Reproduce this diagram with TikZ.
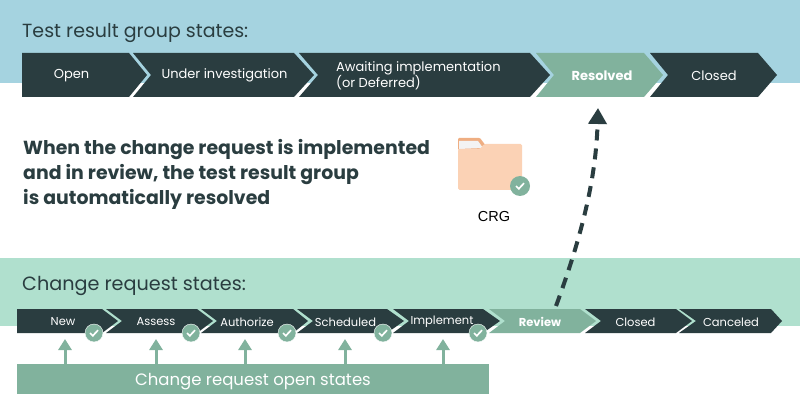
\documentclass[tikz,border=0pt]{standalone}
\usepackage{fontspec}
\setmainfont{Poppins}
\newfontfamily\crgfont{Liberation Sans}
\usepackage{xcolor}
\definecolor{colorBlueBand}{HTML}{A5D3E0}
\definecolor{colorGreenBand}{HTML}{B0E0CE}
\definecolor{colorDark}{HTML}{2A3D40}
\definecolor{colorSage}{HTML}{81B29D}
\definecolor{colorFolder}{HTML}{FBD2B5}
\definecolor{colorTab}{HTML}{EFAE82}
\definecolor{colorPaper}{HTML}{F3F3F3}
\usetikzlibrary{arrows.meta, positioning}
\tikzset{
  bandTitle/.style={anchor=west, inner sep=0pt, text=colorDark, font=\fontsize{19}{23}\selectfont},
  topLabel/.style={inner sep=0pt, text=white, font=\fontsize{13}{16}\selectfont},
  topBold/.style={topLabel, font=\fontsize{13}{16}\selectfont\bfseries},
  lowLabel/.style={inner sep=0pt, text=white, font=\fontsize{11.5}{14}\selectfont},
  lowBold/.style={lowLabel, font=\fontsize{11.5}{14}\selectfont\bfseries},
  checkDot/.style={circle, fill=colorSage, draw=white, line width=0.4pt, inner sep=0pt, minimum size=#1,
    path picture={\draw[white, line width=1.7pt]
      ([shift={(-4,0)}]path picture bounding box.center) -- ++(2.8,2.8) -- ++(5.2,-5.6);}},
  upArrow/.style={-{Triangle[length=11pt,width=13pt]}, colorSage, line width=3pt},
}
\begin{document}
\begin{tikzpicture}[x=1pt, y=-1pt]
\useasboundingbox (0,0) rectangle (800,414);
\fill[colorBlueBand] (0,0) rectangle (800,83);
\fill[colorGreenBand] (0,258) rectangle (800,326);
\node[bandTitle] (topTitle) at (22,33) {Test result group states:};
\node[bandTitle, font=\fontsize{19.2}{23}\selectfont] (lowTitle) at (22,286) {Change request states:};
\foreach \name/\col/\xa/\xn/\xb/\xt/\xl/\sty/\txt in {
  topOpen/colorDark/22/22/129/147/71.5/topLabel/Open,
  topUnder/colorDark/133/151/294/314/224.5/topLabel/Under investigation,
  topAwait/colorDark/299/318/530/550/417/topLabel/{},
  topResolved/colorSage/536/554/644/663/602/topBold/Resolved,
  topClosed/colorDark/650/668/758/777/714/topLabel/Closed}{
  \fill[\col] (\xa,53) -- (\xb,53) -- (\xt,75) -- (\xb,97) -- (\xa,97) -- (\xn,75) -- cycle;
  \node[\sty] (\name) at (\xl,75.7) {\txt};
}
\node[topLabel, align=left, anchor=west] (topAwaitText) at (336,75.7) {Awaiting implementation\\(or Deferred)};
\foreach \name/\col/\xa/\xn/\xb/\xt/\xl/\sty/\txt in {
  lowNew/colorDark/17/17/102/118/63/lowLabel/New,
  lowAssess/colorDark/106/122/197/213/156/lowLabel/Assess,
  lowAuthorize/colorDark/201/217/293/308/247/lowLabel/Authorize,
  lowScheduled/colorDark/297/313/387/404/345.5/lowLabel/Scheduled,
  lowImplement/colorDark/393/409/483/500/442/lowLabel/Implement,
  lowReview/colorSage/489/505/580/596/540/lowBold/Review,
  lowClosed/colorDark/585/601/676/692/635.5/lowLabel/Closed,
  lowCanceled/colorDark/679/696/771/782/731/lowLabel/Canceled}{
  \fill[\col] (\xa,309) -- (\xb,309) -- (\xt,321) -- (\xb,333) -- (\xa,333) -- (\xn,321) -- cycle;
  \node[\sty] (\name) at (\xl,322) {\txt};
}
\foreach \name/\x in {New/94, Assess/191, Authorize/287, Scheduled/383, Implement/478}
  \node[checkDot=18pt] (\name Check) at (\x,333) {};
\node[fill=colorSage, minimum width=472pt, minimum height=30pt, inner sep=0pt, text=white,
  font=\fontsize{16.5}{20}\selectfont, text depth=3pt, text height=15.5pt] (openBox) at (253,379) {Change request open states};
\foreach \name/\x in {New/65, Assess/156, Authorize/245, Scheduled/345, Implement/443}{
  \coordinate (\name Tip) at (\x,339);
  \draw[upArrow] (openBox.north -| \name Tip) -- (\name Tip);
}
\node[anchor=west, inner sep=0pt, align=left, text=colorDark,
  font=\fontsize{18.9}{25}\selectfont\bfseries] (message) at (23,174)
  {When the change request is implemented\\and in review, the test result group\\is automatically resolved};
\fill[colorTab, rounded corners=1pt] (458,150) -- (458,138) -- (480,138) -- (486,146) -- (486,150) -- cycle;
\fill[colorPaper] (459,141) -- (478,141) -- (483,148) -- (459,149) -- cycle;
\fill[colorFolder, rounded corners=1.5pt] (458,190) -- (458,149) -- (480,149) -- (484,144) -- (522,144) -- (522,190) -- cycle;
\node[checkDot=20pt, draw=none] (folderCheck) at (520,186) {};
\node[inner sep=0pt, text=black, font=\crgfont\fontsize{14.5}{16}\selectfont] (crgLabel) at (494,217) {CRG};
\coordinate (reviewStart) at (556,306);
\coordinate (resolvedEnd) at (598,108);
\draw[colorDark, line width=4pt, dash pattern=on 11pt off 8pt, -{Triangle[length=16pt,width=18pt]}]
  (reviewStart) .. controls (581,238) and (596,180) .. (resolvedEnd);
\end{tikzpicture}
\end{document}
